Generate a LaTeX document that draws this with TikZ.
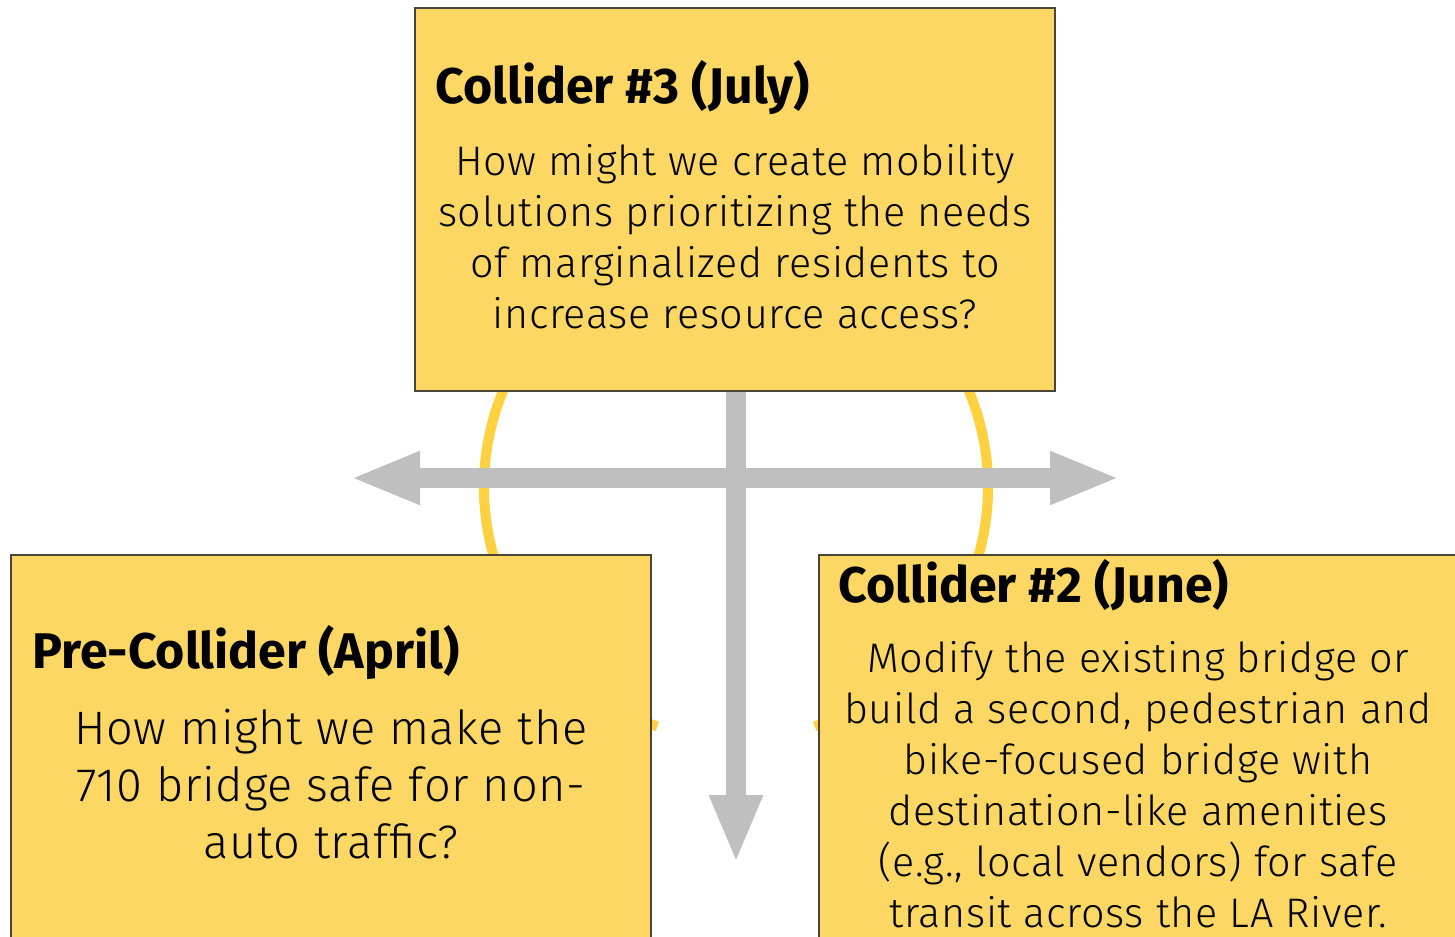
\documentclass[tikz,border=0pt]{standalone}
\usepackage{fontspec}
\setmainfont{Fira Sans Light}[BoldFont={Fira Sans Bold}]
\newfontfamily\questfont{Fira Sans Light}[LetterSpace=1.5]
\usetikzlibrary{arrows.meta,positioning}
\definecolor{cardfill}{HTML}{FDD764}
\definecolor{cardedge}{HTML}{4A4538}
\definecolor{ringyellow}{HTML}{FFD03F}
\definecolor{arrowgray}{HTML}{BFBFBF}
\tikzset{card/.style={draw=cardedge, fill=cardfill, line width=0.7pt, inner sep=0pt},
  heading/.style={anchor=west, inner sep=0pt, font=\bfseries\fontsize{28.5}{33}\selectfont},
  question/.style={align=center, inner sep=0pt, font=\questfont\fontsize{23.5}{29}\selectfont},
  flow/.style={draw=arrowgray, line width=0.4cm},
  ring/.style={draw=ringyellow, line width=0.2cm}}

\begin{document}
\begin{tikzpicture}
  \useasboundingbox (0,0) rectangle (29.1,-18.72);
  \coordinate (hub) at (14.72,-9.74);
  % ring behind the cards
  \draw[ring] ([shift={(-71.8:5.04)}]hub) arc[start angle=-71.8, end angle=251.8, radius=5.04];
  % cards
  \node (july) [card, minimum width=12.8cm, minimum height=7.66cm] at (14.70,-3.99) {};
  \node (april) [card, minimum width=12.8cm, minimum height=7.9cm] at (6.62,-15.05) {};
  \node (june) [card, minimum width=12.92cm, minimum height=7.9cm] at (22.84,-15.05) {};
  \node (julyhead) [heading] at (8.70,-1.76) {Collider \#3 (July)};
  \node (julytext) [question] at (14.70,-4.73)
    {How might we create mobility\\solutions prioritizing the needs\\of marginalized residents to\\increase resource access?};
  \node (aprilhead) [heading] at (0.64,-13.06) {Pre-Collider (April)};
  \node (apriltext) [question, font=\questfont\fontsize{26.7}{32.4}\selectfont] at (6.62,-15.68)
    {How might we make the\\710 bridge safe for non-\\auto traffic?};
  \node (junehead) [heading] at (16.76,-11.70) {Collider \#2 (June)};
  \node (junetext) [question] at (22.76,-15.69)
    {Modify the existing bridge or\\build a second, pedestrian and\\bike-focused bridge with\\destination-like amenities\\(e.g., local vendors) for safe\\transit across the LA River.};
  % arrows
  \coordinate (westend) at (7.0,-9.56);
  \coordinate (eastend) at (22.4,-9.56);
  \coordinate (southend) at (14.72,-17.26);
  \draw[flow, {Triangle[length=1.4cm, width=0.97cm]}-{Triangle[length=1.4cm, width=0.97cm]}] (westend) -- (eastend);
  \draw[flow, -{Triangle[length=1.36cm, width=0.98cm]}] (july.south -| southend) -- (southend);
\end{tikzpicture}
\end{document}
